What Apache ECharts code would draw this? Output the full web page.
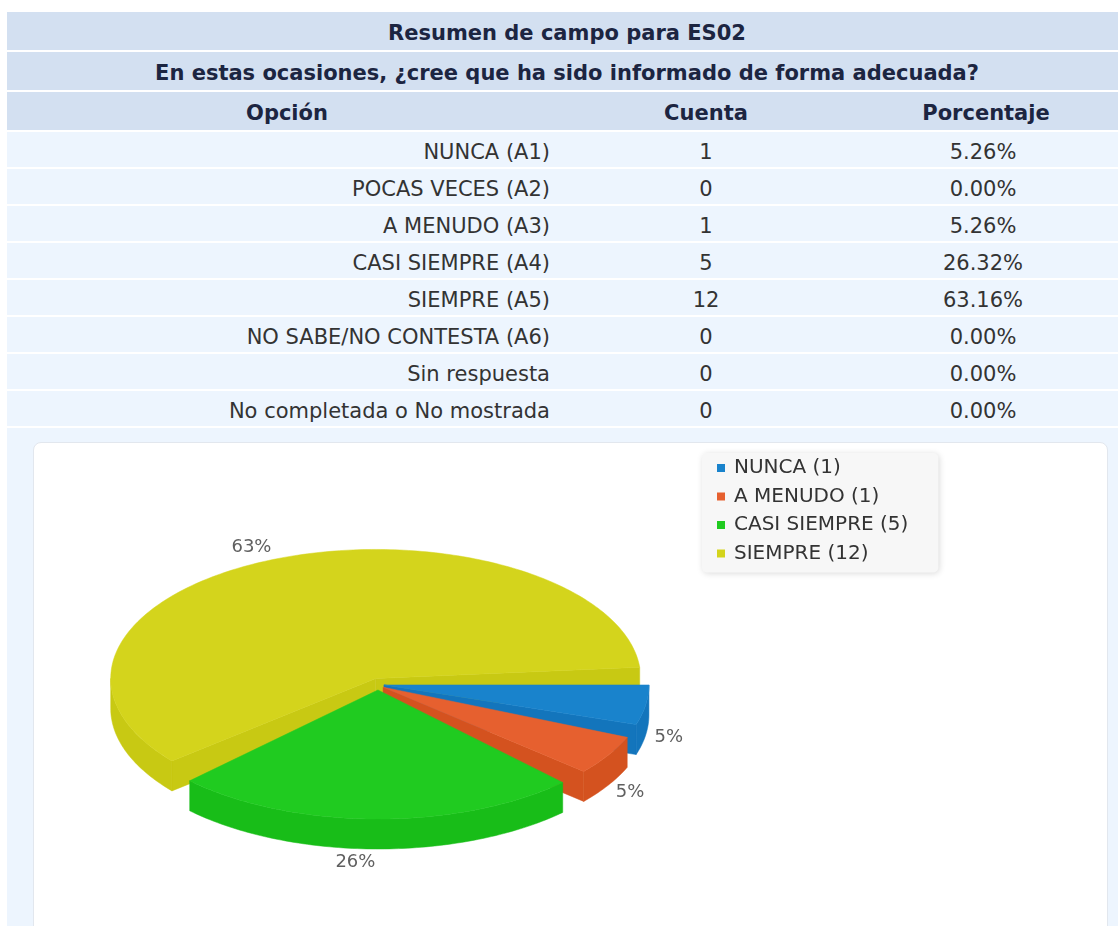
<!DOCTYPE html>
<html>
<head>
<meta charset="utf-8">
<script src="https://cdn.jsdelivr.net/npm/echarts@6/dist/echarts.min.js"></script>
<style>
html,body{margin:0;padding:0;width:1118px;height:926px;overflow:hidden;background:#fff;font-family:"DejaVu Sans",Verdana,sans-serif;}
#tbl{position:absolute;left:7px;top:12px;width:1120px;}
.row{display:flex;margin-bottom:2px;font-size:21px;white-space:nowrap;overflow:hidden;}
.row div{flex:none;}
.hd{background:#d3e0f1;height:38px;line-height:42px;font-weight:bold;color:#1c2541;}
.hd .full{width:1120px;text-align:center;}
.dr{background:#edf5fe;height:35px;line-height:41px;color:#333;}
.c1{width:560px;}
.c2{width:278px;text-align:center;}
.c3{width:282px;text-align:center;}
.dr .c1{text-align:right;box-sizing:border-box;padding-right:17px;}
.dr .c3{box-sizing:border-box;padding-right:6px;}
.hd .c1{text-align:center;}
#area{position:absolute;left:7px;top:428px;width:1120px;height:500px;background:#edf5fe;}
#card{position:absolute;left:33px;top:442px;width:1075px;height:500px;background:#fff;border:1px solid #e2e7ee;border-radius:8px;box-sizing:border-box;}
#chart{position:absolute;left:33px;top:442px;width:1075px;height:484px;}
</style>
</head>
<body>
<div id="tbl"></div>
<div id="area"></div>
<div id="card"></div>
<div id="chart"></div>
<script>
// ---- table data ----
const tableTitle = 'Resumen de campo para ES02';
const tableQuestion = 'En estas ocasiones, ¿cree que ha sido informado de forma adecuada?';
const tableHeaders = ['Opción', 'Cuenta', 'Porcentaje'];
const optionLabels = ['NUNCA (A1)', 'POCAS VECES (A2)', 'A MENUDO (A3)', 'CASI SIEMPRE (A4)', 'SIEMPRE (A5)', 'NO SABE/NO CONTESTA (A6)', 'Sin respuesta', 'No completada o No mostrada'];
const optionCounts = [1, 0, 1, 5, 12, 0, 0, 0];
const optionPercents = ['5.26%', '0.00%', '5.26%', '26.32%', '63.16%', '0.00%', '0.00%', '0.00%'];

// ---- chart data ----
const sliceNames = ['NUNCA (1)', 'A MENUDO (1)', 'CASI SIEMPRE (5)', 'SIEMPRE (12)'];
const sliceValues = [1, 1, 5, 12];

// ---- styles ----
const topColors = ['#1983cc', '#e6602f', '#20cb20', '#d4d41c'];
const sideColors = ['#1375bc', '#d4521f', '#18bd18', '#c8c913'];

// build table
(function () {
  const t = document.getElementById('tbl');
  function row(cls, cells) {
    const r = document.createElement('div');
    r.className = 'row ' + cls;
    cells.forEach(function (c) {
      const d = document.createElement('div');
      d.className = c[0];
      d.textContent = c[1];
      r.appendChild(d);
    });
    t.appendChild(r);
  }
  row('hd', [['full', tableTitle]]);
  row('hd', [['full', tableQuestion]]);
  row('hd', [['c1', tableHeaders[0]], ['c2', tableHeaders[1]], ['c3', tableHeaders[2]]]);
  optionLabels.forEach(function (lab, i) {
    row('dr', [['c1', lab], ['c2', String(optionCounts[i])], ['c3', optionPercents[i]]]);
  });
})();

// pie geometry (chart-local pixels): 3D pie with angular gaps between slices
const PIE = { cx: 345, cy: 242, rx: 265, ry: 129, depth: 30, offset: 6, gapDeg: 5, labelRx: 280, labelRy: 148 };
const total = sliceValues.reduce(function (a, b) { return a + b; }, 0);
const gapRad = PIE.gapDeg * Math.PI / 180;
const usable = 2 * Math.PI - gapRad * sliceValues.length;

function renderSlice(params, api) {
  const idx = params.seriesIndex;
  const v = api.value(0), before = api.value(1);
  const a = before / total * usable + idx * gapRad;
  const b = a + v / total * usable;
  const m = (a + b) / 2;
  const D = PIE.depth;
  const ox = PIE.cx + PIE.offset * Math.cos(m);
  const oy = PIE.cy + PIE.offset * Math.sin(m);
  function P(t, h) { return [ox + PIE.rx * Math.cos(t), oy + PIE.ry * Math.sin(t) + h]; }
  function arc(t0, t1, h) {
    const pts = [];
    const n = Math.max(2, Math.ceil((t1 - t0) / (Math.PI / 180)));
    for (let k = 0; k <= n; k++) pts.push(P(t0 + (t1 - t0) * k / n, h));
    return pts;
  }
  function poly(points, color, z2) {
    return { type: 'polygon', shape: { points: points }, style: { fill: color, stroke: color, lineWidth: 0.5 }, z2: z2 };
  }
  const depthOrder = Math.round((Math.sin(m) + 1) * 10);
  const children = [];
  const side = sideColors[idx], top = topColors[idx];
  if (Math.cos(a) < -1e-6) children.push(poly([[ox, oy], P(a, 0), P(a, D), [ox, oy + D]], side, depthOrder));
  if (Math.cos(b) > 1e-6) children.push(poly([[ox, oy], P(b, 0), P(b, D), [ox, oy + D]], side, depthOrder));
  const s0 = Math.max(a, 0), s1 = Math.min(b, Math.PI);
  if (s1 > s0) children.push(poly(arc(s0, s1, 0).concat(arc(s0, s1, D).reverse()), side, depthOrder + 1));
  children.push({ type: 'polygon', shape: { points: [[ox, oy]].concat(arc(a, b, 0)) }, style: { fill: top, stroke: top, lineWidth: 0.5 }, z2: 100 });
  // data label (outside, below-rim labels shifted by the slice height)
  const lx = PIE.cx + PIE.labelRx * Math.cos(m);
  const ly = PIE.cy + PIE.labelRy * Math.sin(m) + (Math.sin(m) > 0 ? D : 0);
  children.push({
    type: 'text', x: lx, y: ly, z2: 200,
    style: { text: Math.round(v / total * 100) + '%', fill: '#606060', font: '18px "DejaVu Sans", sans-serif', align: Math.cos(m) >= 0 ? 'left' : 'right', verticalAlign: 'middle' }
  });
  return { type: 'group', children: children };
}

const chart = echarts.init(document.getElementById('chart'), null, { renderer: 'canvas' });
let cum = 0;
const series = sliceNames.map(function (name, i) {
  const s = {
    type: 'custom', name: name, coordinateSystem: 'none',
    itemStyle: { color: topColors[i] },
    renderItem: renderSlice,
    data: [[sliceValues[i], cum]],
    animation: false, silent: true
  };
  cum += sliceValues[i];
  return s;
});

chart.setOption({
  animation: false,
  legend: {
    data: sliceNames,
    orient: 'vertical',
    left: 669, top: 11,
    icon: 'rect', itemWidth: 8, itemHeight: 8, itemGap: 8.5,
    padding: [5, 30, 9, 15],
    backgroundColor: '#f7f7f7', borderRadius: 5,
    shadowBlur: 6, shadowColor: 'rgba(0,0,0,0.15)', shadowOffsetX: 1, shadowOffsetY: 1,
    selectedMode: false,
    textStyle: { fontFamily: 'DejaVu Sans', fontSize: 20, lineHeight: 20, color: '#333', padding: [0, 0, 0, 4] }
  },
  series: series
});
</script>
</body>
</html>
